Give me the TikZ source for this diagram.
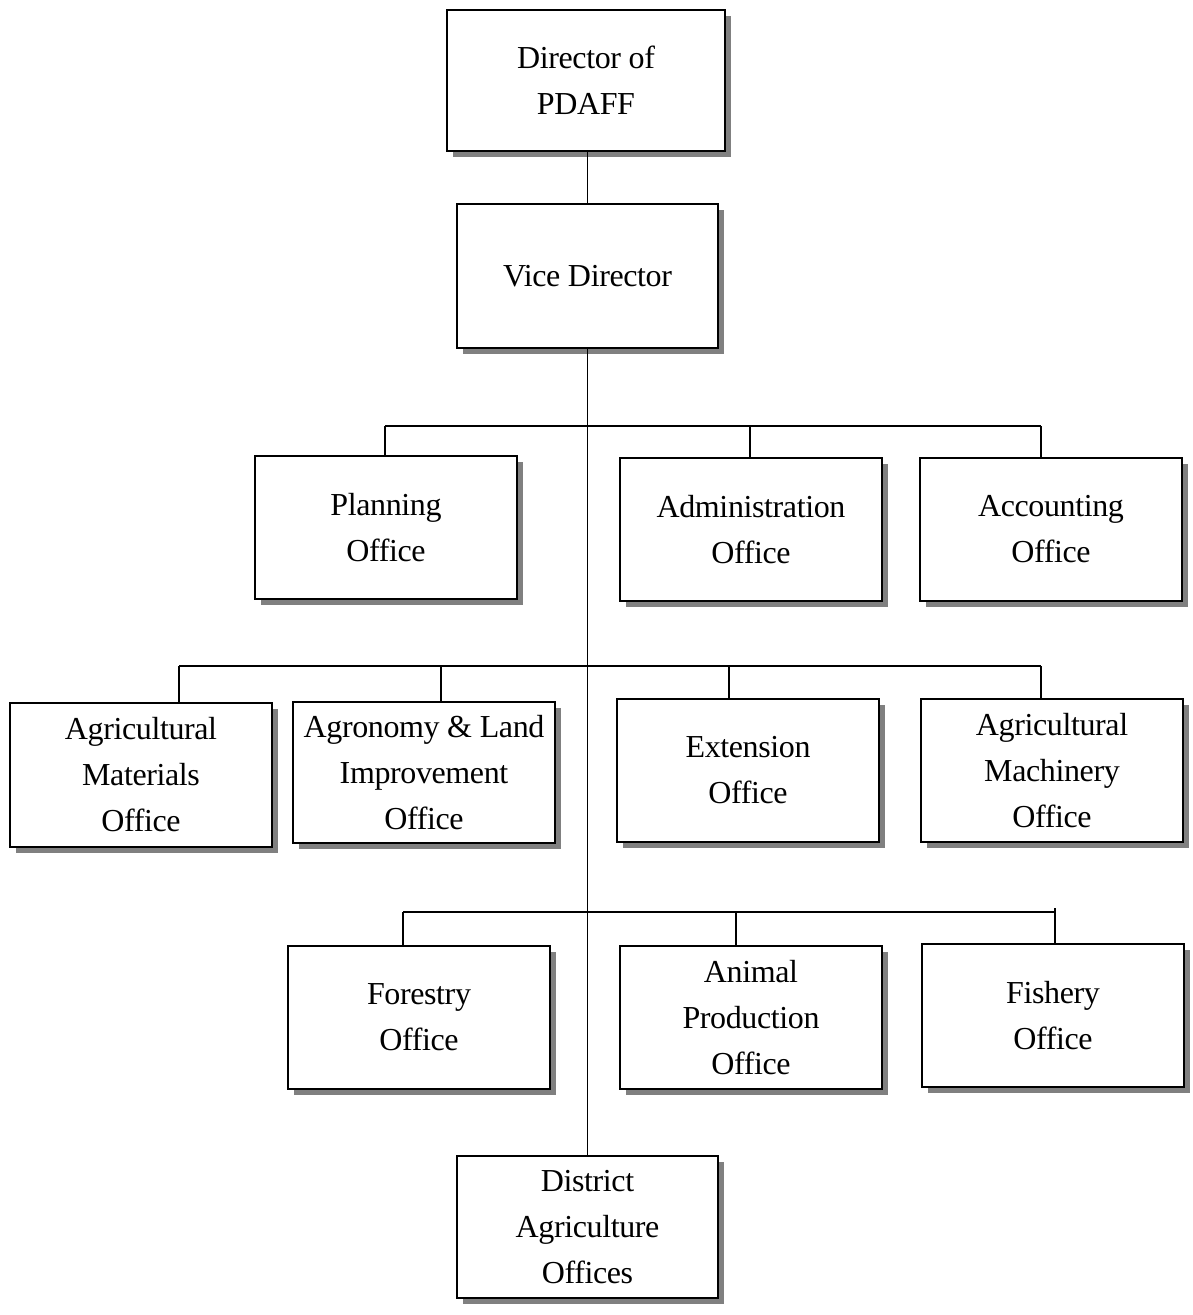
\documentclass[tikz,border=0pt]{standalone}
\usepackage{fontspec}
\setmainfont[LetterSpace=-1.2]{Liberation Serif}
\usetikzlibrary{shadows}
\begin{document}
\begin{tikzpicture}[x=1pt,y=-1pt,
  orgbox/.style={draw=black, line width=2pt, fill=white, minimum width=262pt, minimum height=143pt,
    inner sep=2pt, align=center, font=\fontsize{32}{46}\selectfont,
    drop shadow={shadow xshift=6pt, shadow yshift=-6pt, fill=black!50, opacity=1}},
  conn/.style={draw=black, line width=1.5pt}]
\useasboundingbox (0,0) rectangle (1192,1315);
\node[orgbox, minimum width=278pt, minimum height=141pt] (dir) at (586,80.5) {Director of\\PDAFF};
\node[orgbox, minimum width=261pt, minimum height=144pt] (vice) at (587.5,276) {Vice Director};
\node[orgbox] (plan) at (386,527.5) {Planning\\Office};
\node[orgbox] (adm) at (751,529.5) {Administration\\Office};
\node[orgbox] (acc) at (1051,529.5) {Accounting\\Office};
\node[orgbox, minimum height=144pt] (mat) at (141,775) {Agricultural\\Materials\\Office};
\node[orgbox, minimum height=141pt] (agro) at (424,772.5) {Agronomy \& Land\\Improvement\\Office};
\node[orgbox] (ext) at (748,770.5) {Extension\\Office};
\node[orgbox] (mach) at (1052,770.5) {Agricultural\\Machinery\\Office};
\node[orgbox] (for) at (419,1017.5) {Forestry\\Office};
\node[orgbox] (ani) at (751,1017.5) {Animal\\Production\\Office};
\node[orgbox] (fish) at (1053,1015.5) {Fishery\\Office};
\node[orgbox, minimum width=261pt, minimum height=142pt] (dist) at (587.5,1227) {District\\Agriculture\\Offices};
% trunk
\draw[conn] (vice.north) -- (vice.north |- dir.south);
\draw[conn] (vice.south) -- (dist.north);
% bus 1
\coordinate (b1a) at (385,426);
\coordinate (b1b) at (750,426);
\coordinate (b1c) at (1041,426);
\draw[conn] (b1a) -- (b1c);
\draw[conn] (b1a) -- (b1a |- plan.north);
\draw[conn] (b1b) -- (b1b |- adm.north);
\draw[conn] (b1c) -- (b1c |- acc.north);
% bus 2
\coordinate (b2a) at (179,666);
\coordinate (b2b) at (441,666);
\coordinate (b2c) at (729,666);
\coordinate (b2d) at (1041,666);
\draw[conn] (b2a) -- (b2d);
\draw[conn] (b2a) -- (b2a |- mat.north);
\draw[conn] (b2b) -- (b2b |- agro.north);
\draw[conn] (b2c) -- (b2c |- ext.north);
\draw[conn] (b2d) -- (b2d |- mach.north);
% bus 3
\coordinate (b3a) at (403,912);
\coordinate (b3b) at (736,912);
\coordinate (b3c) at (1055,912);
\coordinate (b3t) at (1055,908);
\draw[conn] (b3a) -- (b3c);
\draw[conn] (b3a) -- (b3a |- for.north);
\draw[conn] (b3b) -- (b3b |- ani.north);
\draw[conn] (b3t) -- (b3t |- fish.north);
\end{tikzpicture}
\end{document}
